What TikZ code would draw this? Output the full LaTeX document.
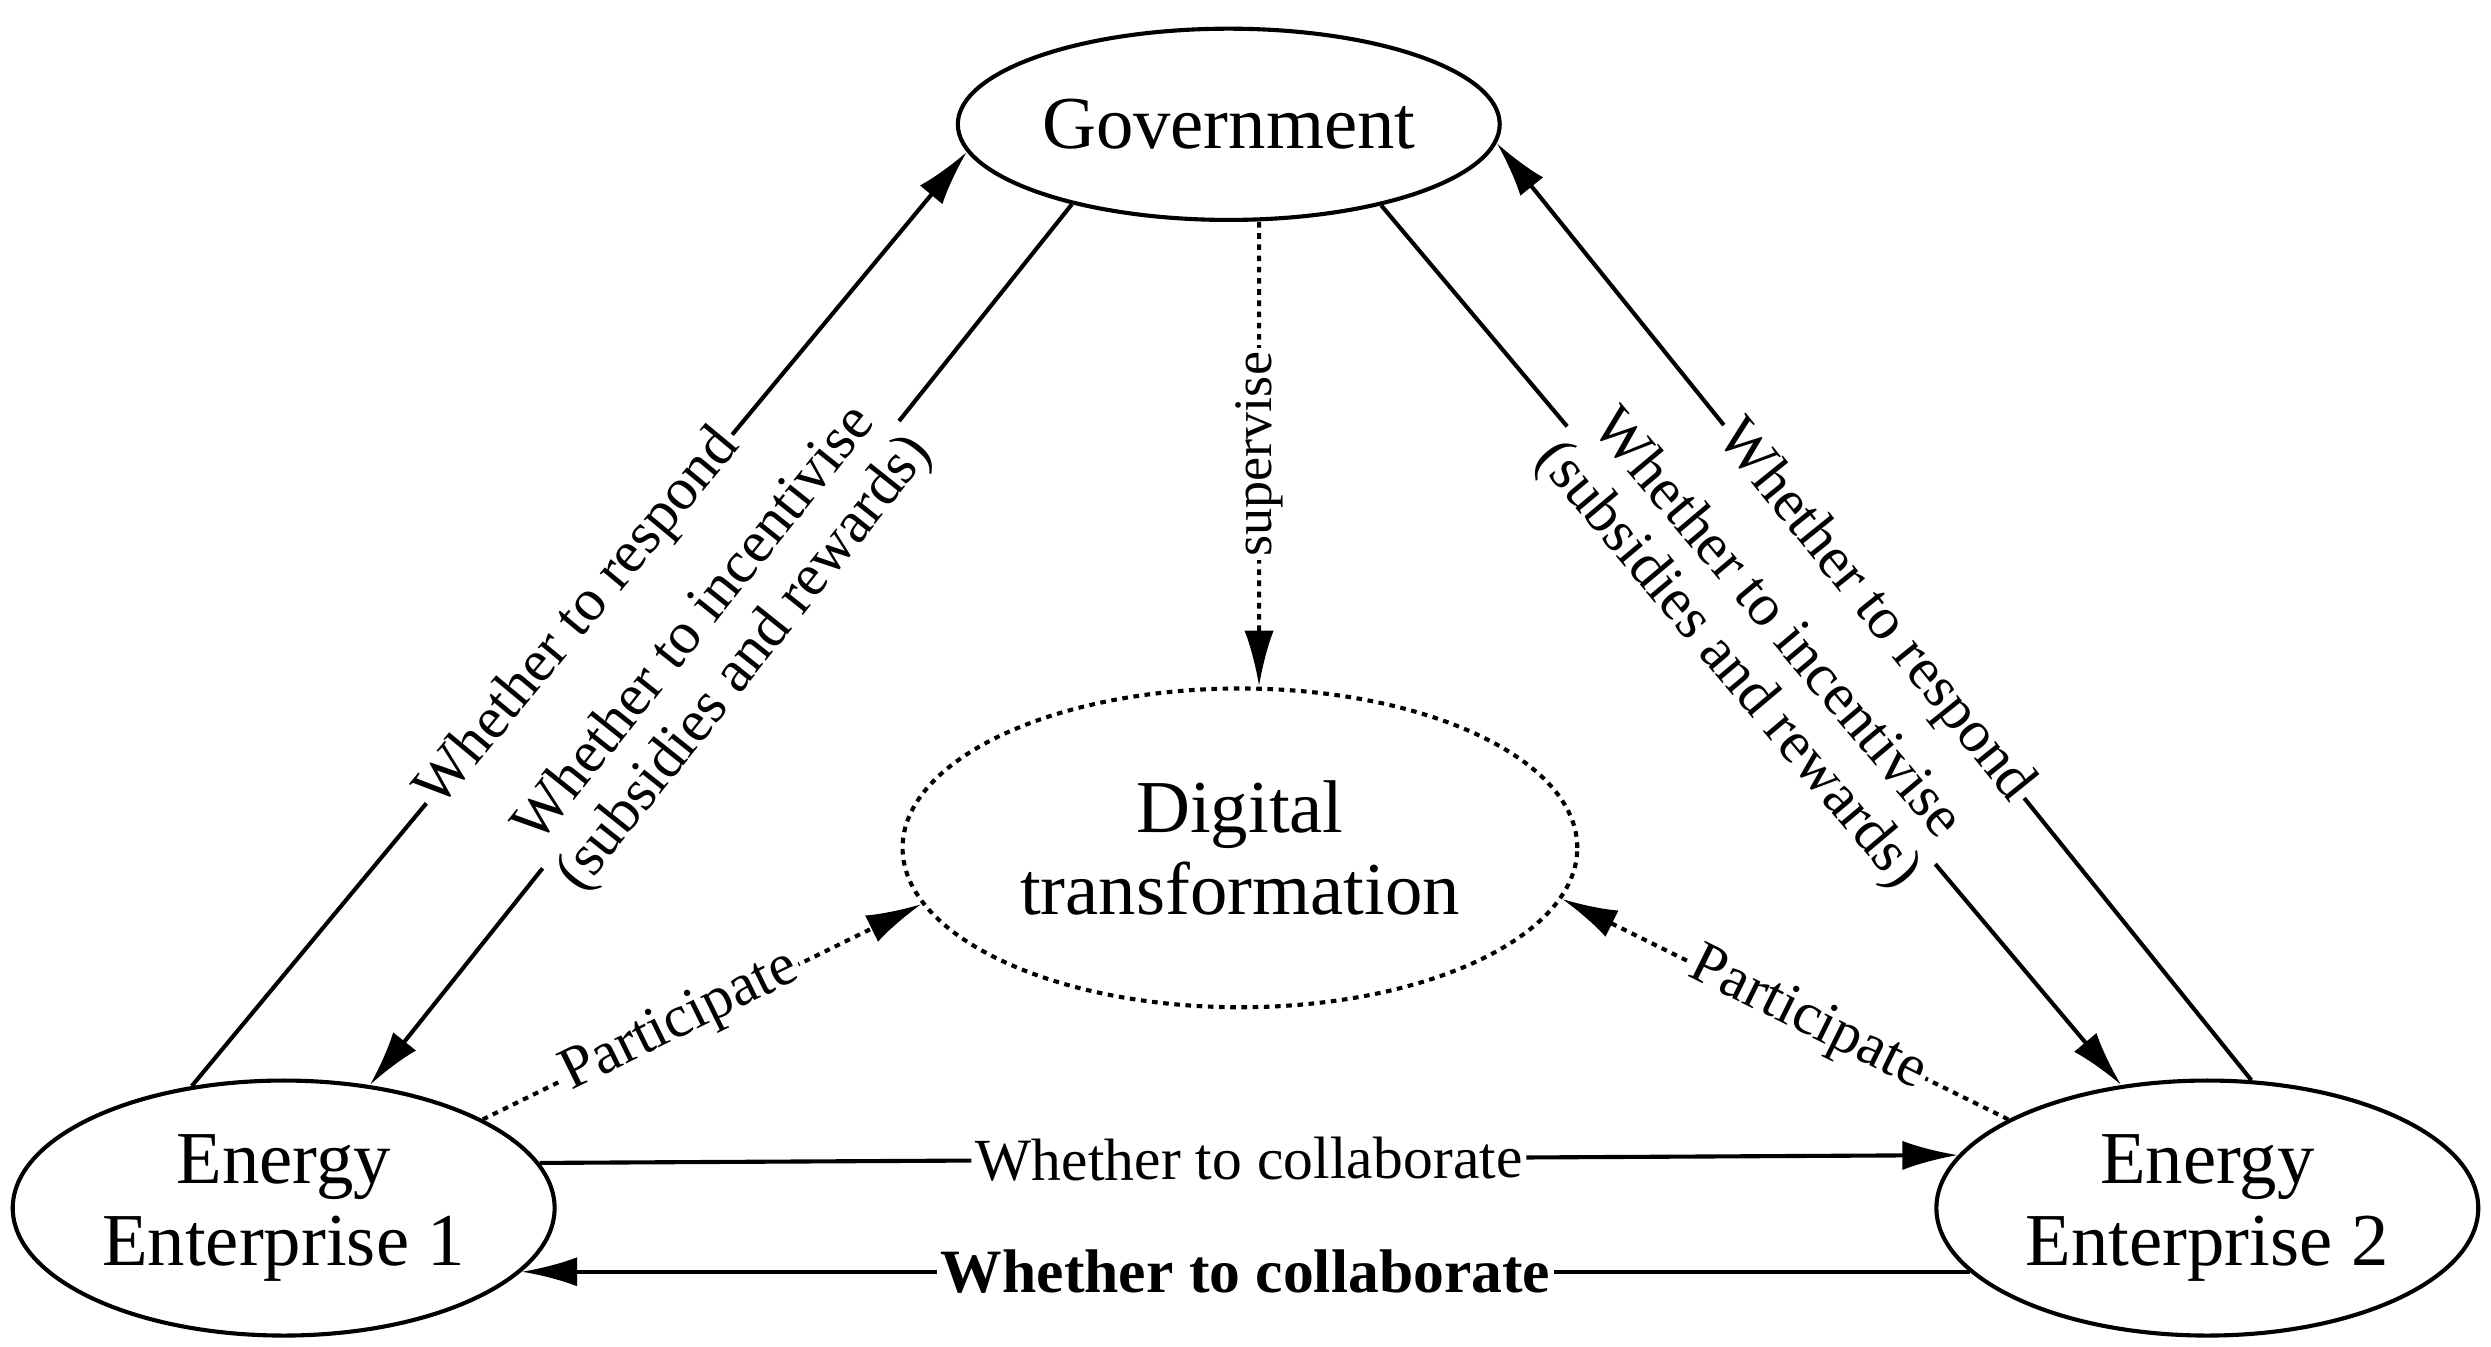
\documentclass[tikz,border=0pt]{standalone}
\usepackage{fontspec}
\setmainfont{Liberation Serif}
\usetikzlibrary{shapes.geometric,arrows.meta}
\begin{document}
\begin{tikzpicture}[x=0.03cm,y=-0.03cm,
  ell/.style={ellipse,draw,line width=2.2pt,inner sep=0pt,font=\fontsize{40}{44}\selectfont,align=center},
  con/.style={line width=2.2pt,-{Latex[length=1.05cm,width=0.55cm]}},
  dot/.style={con,dash pattern=on 3pt off 3pt},
  lab/.style={fill=white,inner sep=2pt,font=\fontsize{32}{34}\selectfont,align=center,sloped}]
\useasboundingbox (0,0) rectangle (1563,845);
\node[ell,minimum width=10.2cm,minimum height=3.6cm] (gov) at (771,78) {Government};
\node[ell,dash pattern=on 3pt off 3pt,minimum width=12.7cm,minimum height=6cm] (dt) at (778,532) {Digital\\transformation};
\node[ell,minimum width=10.2cm,minimum height=4.8cm] (e1) at (178,758) {Energy\\Enterprise 1};
\node[ell,minimum width=10.2cm,minimum height=4.8cm] (e2) at (1385,758) {Energy\\Enterprise 2};
\draw[con] (e1.127) -- node[lab,pos=0.5]{Whether to respond} (gov.186);
\draw[con] (gov.207) -- node[lab,pos=0.5]{Whether to incentivise\\(subsidies and rewards)} (e1.55);
\draw[con] (e2.71) -- node[lab,pos=0.5]{Whether to respond} (gov.-4);
\draw[con] (gov.-28) -- node[lab,pos=0.5]{Whether to incentivise\\(subsidies and rewards)} (e2.125);
\coordinate (gs) at ([xshift=0.57cm]gov.south);
\coordinate (dn) at ([xshift=0.36cm]dt.north);
\draw[dot] (gs) -- node[lab,pos=0.5,font=\fontsize{29}{32}\selectfont]{supervise} (dn);
\draw[dot] (e1.24) -- node[lab,pos=0.45]{Participate} (dt.190);
\draw[dot] (e2.156) -- node[lab,pos=0.45]{Participate} (dt.-9);
\draw[con] (e1.10.5) -- node[lab]{Whether to collaborate} (e2.168);
\draw[con] (e2.195) -- node[lab,font=\bfseries\fontsize{33}{35}\selectfont]{Whether to collaborate} (e1.-15);
\end{tikzpicture}
\end{document}
